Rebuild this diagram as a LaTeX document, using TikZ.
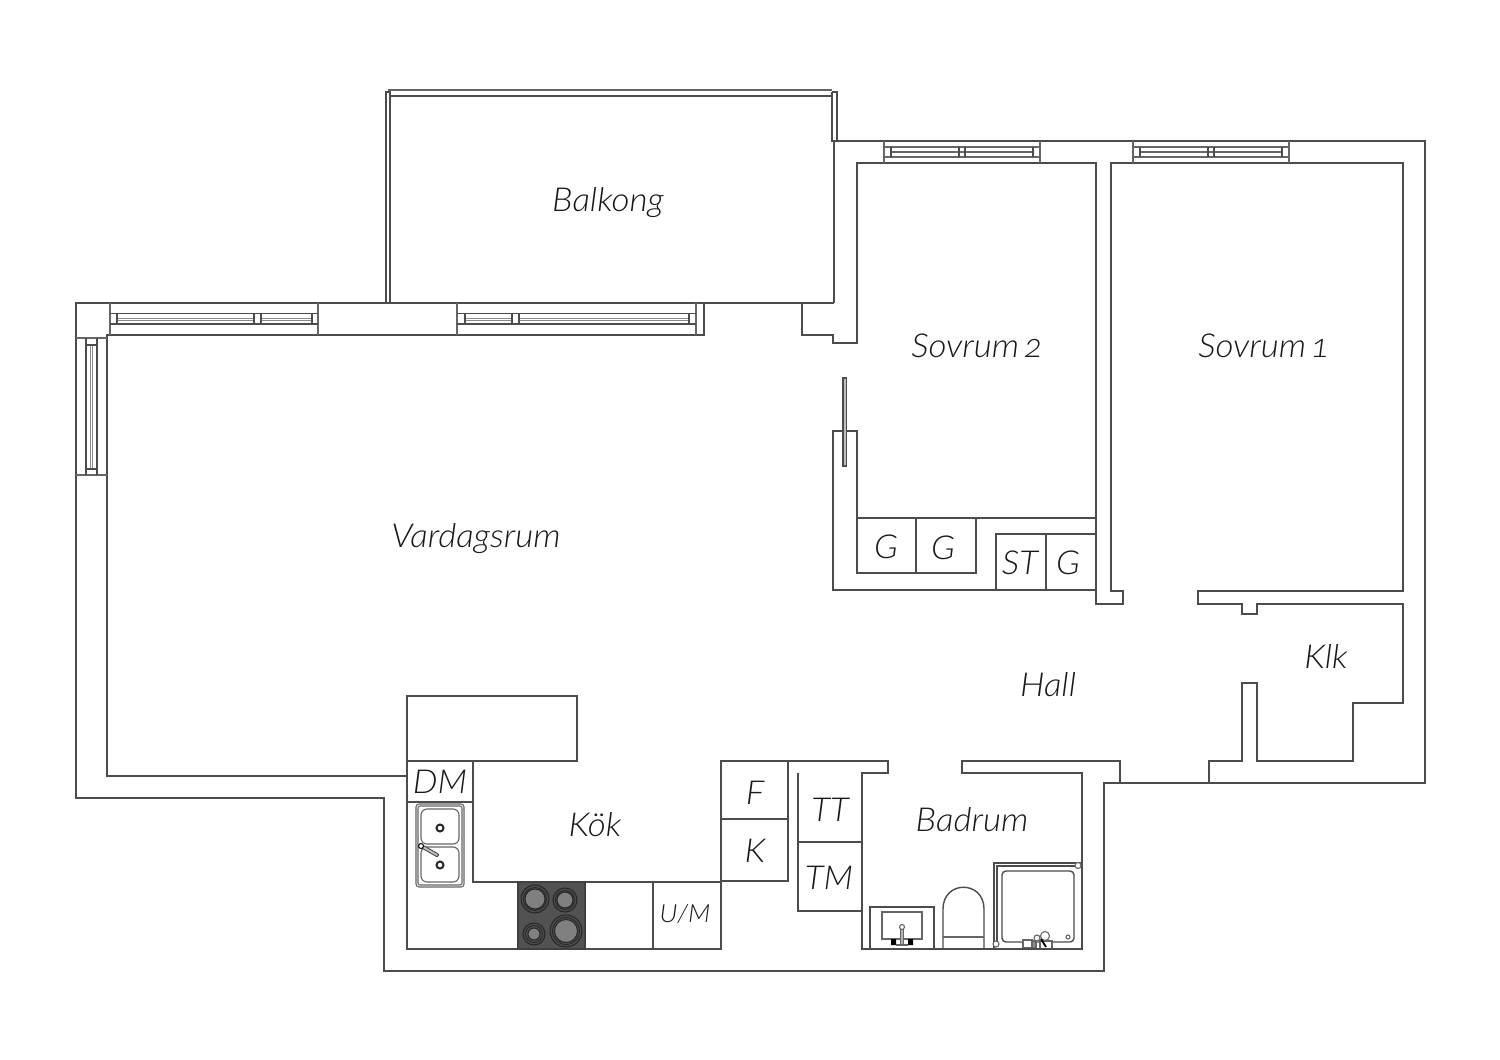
\documentclass[tikz,border=0pt]{standalone}
\usepackage{fontspec}
\setmainfont{Lato}[ItalicFont={Lato Light Italic},ItalicFeatures={FakeStretch=1.06,Numbers=OldStyle}]
\begin{document}
\begin{tikzpicture}[x=0.5pt,y=-0.5pt,
  wall/.style={draw=black!70,line width=0.7pt,line join=miter,fill=none},
  thin wall/.style={draw=black!60,line width=0.55pt},
  lbl/.style={font=\itshape\fontsize{16.5}{18}\selectfont,text=black!90,inner sep=0pt},
  lbls/.style={font=\itshape\fontsize{12.5}{14}\selectfont,text=black!90,inner sep=0pt},
  burnerring/.style={draw=black!85,line width=0.5pt,fill=black!70}]
\useasboundingbox[fill=white] (0,0) rectangle (1500,1060);
% outer shell
\draw[wall] (834,141) -- (1425,141) -- (1425,783) -- (1104,783) -- (1104,971) -- (384,971) -- (384,798) -- (76,798) -- (76,303) -- (834,303);
\draw[wall] (834,141) -- (834,303);
% balcony rails
\draw[wall] (386,303) -- (386,92) -- (390,92) -- (390,303);
\draw[thin wall] (388,90) -- (832,90);
\draw[wall] (390,96) -- (832,96);
\draw[wall] (832,92) -- (837,92) -- (837,141) -- (832,141) -- (832,92);
% living room inner wall
\draw[wall] (704,303) -- (704,335) -- (107,335) -- (107,776) -- (407,776);
\draw[wall] (802,303) -- (802,335) -- (833,335) -- (833,343) -- (857,343) -- (857,163) -- (1096,163) -- (1096,518) -- (857,518) -- (857,431) -- (833,431) -- (833,590) -- (1096,590) -- (1096,604) -- (1123,604) -- (1123,591) -- (1111,591) -- (1111,163) -- (1403,163) -- (1403,591) -- (1198,591) -- (1198,604) -- (1242,604) -- (1242,614) -- (1257,614) -- (1257,604) -- (1403,604) -- (1403,703) -- (1353,703) -- (1353,761) -- (1257,761) -- (1257,683) -- (1242,683) -- (1242,761) -- (1209,761) -- (1209,783);
\draw[wall] (1096,534) -- (996,534) -- (996,590);
\draw[wall] (1046,534) -- (1046,590);
\draw[wall] (1096,518) -- (1096,590);
\draw[wall] (857,518) -- (857,573) -- (976,573) -- (976,518);
\draw[wall] (916,518) -- (916,573);
% door
\draw[wall,fill=black!25,line width=0.55pt] (843,378) rectangle (846.5,466);
% windows top right
\foreach \a/\b/\c/\d/\e/\f in {884/891/959/965/1033/1040,1133/1140/1208/1214/1282/1289}{
  \draw[thin wall] (\a,141) -- (\a,163) (\f,141) -- (\f,163);
  \draw[thin wall] (\a,147) -- (\f,147) (\a,157) -- (\f,157) (\b,152) -- (\e,152);
  \draw[wall] (\b,147) -- (\b,157) (\c,147) -- (\c,157) (\d,147) -- (\d,157) (\e,147) -- (\e,157);
}
% windows living room top
\foreach \a/\b/\c/\d/\e/\f in {110/117/254/261/312/318,457/465/512/519/689/696}{
  \draw[thin wall] (\a,303) -- (\a,335) (\f,303) -- (\f,335);
  \draw[wall] (\a,313.5) -- (\f,313.5) (\a,324) -- (\f,324);
  \draw[draw=black!45,line width=0.5pt] (\b,318) -- (\c,318) (\d,318) -- (\e,318) (\b,320) -- (\c,320) (\d,320) -- (\e,320);
  \draw[wall] (\b,313.5) -- (\b,324) (\c,313.5) -- (\c,324) (\d,313.5) -- (\d,324) (\e,313.5) -- (\e,324);
}
% window living room left
\draw[thin wall] (76,338) -- (107,338) (76,475) -- (107,475);
\draw[wall] (86,338) -- (86,475) (97,338) -- (97,475);
\draw[draw=black!45,line width=0.5pt] (90.5,345) -- (90.5,469) (92.5,345) -- (92.5,469);
\draw[wall] (86,345) -- (97,345) (86,469) -- (97,469);
% kitchen
\draw[wall] (407,776) -- (407,696) -- (577,696) -- (577,761) -- (407,761);
\draw[wall] (407,761) -- (407,949) -- (721,949) -- (721,761) -- (888,761) -- (888,773) -- (862,773) -- (862,949) -- (1082,949) -- (1082,773) -- (962,773) -- (962,761) -- (1120,761) -- (1120,783);
\draw[wall] (473,761) -- (473,882) -- (721,882);
\draw[wall] (407,802) -- (473,802);
\draw[wall] (788,761) -- (788,881) -- (721,881);
\draw[wall] (721,819) -- (788,819);
\draw[wall] (653,882) -- (653,949);
\draw[wall] (798,773) -- (798,911) -- (862,911);
\draw[wall] (798,842) -- (862,842);
% sink
\draw[thin wall,rounded corners=1.5pt] (416,804) rectangle (464,887);
\draw[thin wall,rounded corners=1pt] (418,806) rectangle (462,885);
\draw[thin wall,rounded corners=3pt] (421,809) rectangle (459,844);
\draw[thin wall,rounded corners=3pt] (421,847) rectangle (459,882);
\foreach \y in {828,865}{
  \draw[draw=black!85,line width=1pt,fill=white] (440,\y) circle (3.5);
}
\draw[draw=black!70,line width=2pt,line cap=round] (423,847) -- (437,855);
\draw[draw=black!25,line width=0.9pt,line cap=round] (423,847) -- (437,855);
\draw[draw=black,line width=0.5pt,fill=white] (421,846) circle (2.5);
% stove
\draw[draw=black!75,line width=0.7pt,fill=black!68] (518,882) rectangle (585,949);
\foreach \x/\y/\r/\i in {535/899/14/10,565/900/12/8,534/934/11/6,566/931/16/11.5}{
  \draw[burnerring] (\x,\y) circle (\r);
  \draw[draw=black!85,line width=0.4pt] (\x,\y) circle ({\r-2.5});
  \draw[draw=black!85,line width=0.5pt,fill=black!50] (\x,\y) circle (\i);
}
% bathroom basin
\draw[wall] (870,949) -- (870,907) -- (934,907) -- (934,949);
\draw[thin wall] (882,912) rectangle (922,939);
\fill[black] (891,939) rectangle (896,945) (908,939) rectangle (913,945);
\draw[thin wall,fill=black!30] (900.5,929) rectangle (903.5,945);
\draw[thin wall,fill=white] (902,927) circle (2.5);
\draw[thin wall] (896,945) -- (908,945);
% toilet
\draw[wall] (943,949) -- (943,909) .. controls (943,880) and (984,880) .. (984,909) -- (984,949);
\draw[thin wall] (943,937) -- (984,937);
% shower
\draw[wall] (994,949) -- (994,863) -- (1082,863);
\draw[wall] (997,945) -- (997,866) -- (1080,866);
\draw[wall,rounded corners=2pt] (1002,871) rectangle (1074,942);
\draw[thin wall,fill=white] (1078,865.5) circle (3);
\draw[thin wall,fill=white] (996,944) circle (3);
\draw[thin wall,fill=white] (1068,937) circle (2);
\draw[thin wall,fill=white] (1023,940) rectangle (1032,948);
\draw[thin wall,fill=black!45] (1032,941) rectangle (1036,948);
\draw[thin wall,fill=white] (1037,938) circle (3);
\draw[thin wall,fill=white] (1040,941) rectangle (1052,949);
\draw[thin wall,fill=white] (1045,936) circle (4.5);
\draw[draw=black,line width=0.9pt] (1041,939) -- (1046,947);
\draw[wall] (862,949) -- (1082,949);
% labels
\node[lbl] (balkong) at (608,203) {Balkong};
\node[lbl] (sovrum2) at (977,346) {Sovrum\kern-2pt{} 2};
\node[lbl] (sovrum1) at (1264,346) {Sovrum\kern-2pt{} 1};
\node[lbl] (vardagsrum) at (476,539) {Vardagsrum};
\node[lbl] (hall) at (1048,685) {Hall};
\node[lbl] (klk) at (1326,656) {Klk};
\node[lbl] (g1) at (886,547) {G};
\node[lbl] (g2) at (943,548) {G};
\node[lbl] (st) at (1020,563) {ST};
\node[lbl] (g3) at (1068,563) {G};
\node[lbl] (dm) at (440,782) {DM};
\node[lbl] (kok) at (595,825) {Kök};
\node[lbl] (f) at (755,793) {F};
\node[lbl] (k) at (755,851) {K};
\node[lbl] (tt) at (830,810) {TT};
\node[lbl] (tm) at (829,878) {TM};
\node[lbls] (um) at (685,914) {U/M};
\node[lbl] (badrum) at (972,820) {Badrum};
\end{tikzpicture}
\end{document}
